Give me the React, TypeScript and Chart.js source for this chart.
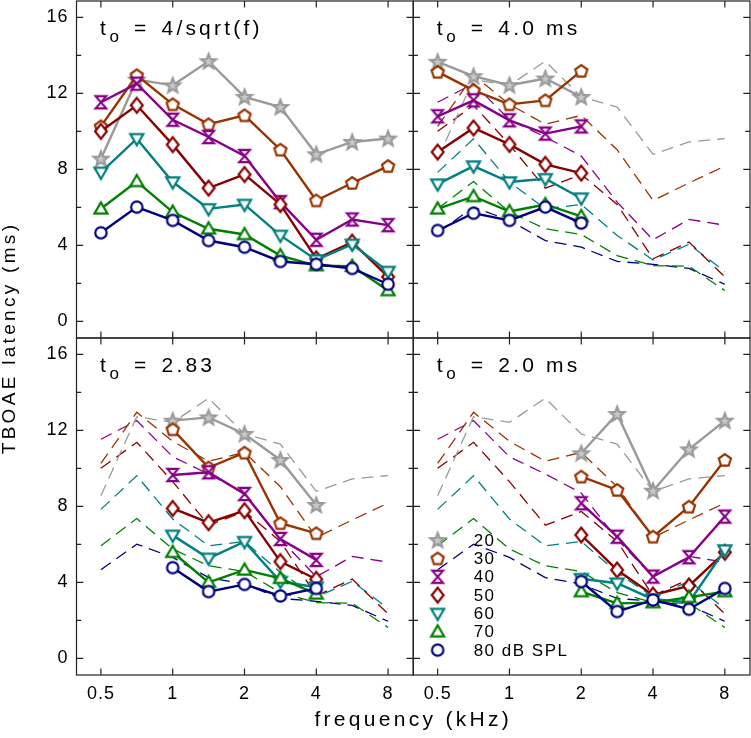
import React, { useEffect, useRef } from 'react';
import { Chart, registerables } from 'chart.js';

Chart.register(...registerables);

// ---------------- data ----------------
const FREQ_KHZ = [0.5, 0.707, 1, 1.414, 2, 2.828, 4, 5.657, 8];
const X_TICKS = [0.5, 1, 2, 4, 8];
const X_TICK_LABELS = ['0.5', '1', '2', '4', '8'];
const Y_TICKS = [0, 4, 8, 12, 16];
const Y_TICK_LABELS = ['0', '4', '8', '12', '16'];
const Y_MINOR_TICKS = [2, 6, 10, 14];
const LEVEL_LABELS = ['20', '30', '40', '50', '60', '70', '80 dB SPL'];
const LEVEL_COLORS = ['#9a9a9a', '#993300', '#880088', '#880000', '#008080', '#008000', '#000080'];
const LEVEL_MARKERS = ['star', 'pentagon', 'hourglass', 'diamond', 'triDown', 'triUp', 'circle'];
const PANEL_LABELS = ['4/sqrt(f)', '4.0 ms', '2.83', '2.0 ms'];

// rows: 20, 30, 40, 50, 60, 70, 80 dB SPL ; columns follow FREQ_KHZ
const LAT_4_SQRT_F = [
  [8.56, 12.72, 12.42, 13.69, 11.81, 11.28, 8.79, 9.44, 9.62],
  [10.26, 12.95, 11.42, 10.37, 10.84, 9.03, 6.36, 7.28, 8.17],
  [11.53, 12.51, 10.61, 9.7, 8.7, 6.27, 4.29, 5.36, 5.06],
  [10.0, 11.37, 9.3, 7.01, 7.73, 6.15, 3.29, 4.17, 2.34],
  [7.84, 9.61, 7.33, 5.92, 6.15, 4.52, 3.23, 4.05, 2.62],
  [5.92, 7.36, 5.75, 4.87, 4.57, 3.46, 2.93, 2.9, 1.62],
  [4.66, 6.01, 5.31, 4.25, 3.9, 3.15, 3.0, 2.78, 1.95],
];
const LAT_4_0_MS = [
  [13.66, 12.9, 12.43, 12.78, 11.81, null, null, null, null],
  [13.13, 12.16, 11.42, 11.63, 13.18, null, null, null, null],
  [10.79, 11.63, 10.58, 9.88, 10.26, null, null, null, null],
  [8.91, 10.18, 9.31, 8.26, 7.8, null, null, null, null],
  [7.22, 8.17, 7.33, 7.5, 6.48, null, null, null, null],
  [5.92, 6.57, 5.78, 6.15, 5.52, null, null, null, null],
  [4.78, 5.69, 5.31, 6.01, 5.17, null, null, null, null],
];
const LAT_2_83_MS = [
  [null, null, 12.51, 12.68, 11.81, 10.44, 8.07, null, null],
  [null, null, 12.05, 10.04, 10.82, 7.11, 6.58, null, null],
  [null, null, 9.65, 9.79, 8.65, 6.28, 5.18, null, null],
  [null, null, 7.89, 7.14, 7.77, 5.09, 4.16, null, null],
  [null, null, 6.47, 5.26, 6.14, 4.04, 3.74, null, null],
  [null, null, 5.58, 4.0, 4.65, 4.21, 3.39, null, null],
  [null, null, 4.77, 3.51, 3.89, 3.28, 3.68, null, null],
];
const LAT_2_0_MS = [
  [null, null, null, null, 10.79, 12.86, 8.82, 11.0, 12.51],
  [null, null, null, null, 9.56, 8.86, 6.4, 7.98, 10.44],
  [null, null, null, null, 8.16, 6.4, 4.3, 5.32, 7.46],
  [null, null, null, null, 6.49, 4.65, 3.33, 3.81, 5.58],
  [null, null, null, null, 4.19, 3.95, 3.11, 2.95, 5.7],
  [null, null, null, null, 3.51, 2.89, 2.93, 3.21, 3.51],
  [null, null, null, null, 4.04, 2.46, 3.07, 2.58, 3.68],
];

const FONT = "'Liberation Sans', Arial, sans-serif";
const X_MIN = 0.395;
const X_MAX = 10.2;
const Y_MIN = -0.88;
const Y_MAX = 16.86;

const PANELS = [
  { x: 'xL', y: 'yT', label: PANEL_LABELS[0], data: LAT_4_SQRT_F, ref: false },
  { x: 'xR', y: 'yT', label: PANEL_LABELS[1], data: LAT_4_0_MS, ref: true },
  { x: 'xL', y: 'yB', label: PANEL_LABELS[2], data: LAT_2_83_MS, ref: true },
  { x: 'xR', y: 'yB', label: PANEL_LABELS[3], data: LAT_2_0_MS, ref: true },
];

function toPoints(vals: (number | null)[]) {
  const pts: { x: number; y: number }[] = [];
  vals.forEach((v, i) => {
    if (v !== null && v !== undefined) pts.push({ x: FREQ_KHZ[i], y: v });
  });
  return pts;
}

function makeMarker(kind: string, color: string): HTMLCanvasElement {
  const S = 22;
  const c = document.createElement('canvas');
  c.width = S;
  c.height = S;
  const g = c.getContext('2d')!;
  g.translate(S / 2, S / 2);
  g.lineWidth = 2.2;
  g.strokeStyle = color;
  g.fillStyle = '#ffffff';
  g.lineJoin = 'miter';
  g.beginPath();
  const poly = (pts: number[][]) => {
    pts.forEach((p, i) => (i === 0 ? g.moveTo(p[0], p[1]) : g.lineTo(p[0], p[1])));
    g.closePath();
  };
  if (kind === 'circle') {
    g.arc(0, 0, 5.7, 0, Math.PI * 2);
  } else if (kind === 'pentagon') {
    const pts: number[][] = [];
    for (let k = 0; k < 5; k++) {
      const a = -Math.PI / 2 + (k * 2 * Math.PI) / 5;
      pts.push([6.4 * Math.cos(a), 6.4 * Math.sin(a) + 0.5]);
    }
    poly(pts);
  } else if (kind === 'star') {
    const pts: number[][] = [];
    for (let k = 0; k < 10; k++) {
      const a = -Math.PI / 2 + (k * Math.PI) / 5;
      const r = k % 2 === 0 ? 7.7 : 3.3;
      pts.push([r * Math.cos(a), r * Math.sin(a) + 0.6]);
    }
    poly(pts);
    g.fillStyle = '#c8c8c8';
  } else if (kind === 'hourglass') {
    poly([[-5.3, -6.1], [5.3, -6.1], [-5.3, 6.1], [5.3, 6.1]]);
  } else if (kind === 'diamond') {
    poly([[0, -7.4], [5.9, 0], [0, 7.4], [-5.9, 0]]);
  } else if (kind === 'triDown') {
    poly([[-6.5, -4.6], [6.5, -4.6], [0, 6.5]]);
  } else if (kind === 'triUp') {
    poly([[0, -6.5], [6.5, 4.6], [-6.5, 4.6]]);
  }
  g.fill();
  g.stroke();
  return c;
}

export default function App() {
  const ref = useRef<HTMLCanvasElement | null>(null);

  useEffect(() => {
    document.body.style.margin = '0';
    const canvas = ref.current;
    if (!canvas) return;
    const markers = LEVEL_MARKERS.map((k, i) => makeMarker(k, LEVEL_COLORS[i]));

    const datasets: any[] = [];
    PANELS.forEach((p) => {
      if (p.ref) {
        LAT_4_SQRT_F.forEach((vals, li) => {
          datasets.push({
            xAxisID: p.x,
            yAxisID: p.y,
            data: toPoints(vals),
            borderColor: LEVEL_COLORS[li],
            borderWidth: 1.3,
            borderDash: [12, 7],
            pointRadius: 0,
            fill: false,
            tension: 0,
            order: 100,
          });
        });
      }
      p.data.forEach((vals, li) => {
        datasets.push({
          xAxisID: p.x,
          yAxisID: p.y,
          data: toPoints(vals as (number | null)[]),
          borderColor: LEVEL_COLORS[li],
          borderWidth: 2.4,
          pointStyle: markers[li],
          pointRadius: 7,
          fill: false,
          tension: 0,
          order: 20 - li,
        });
      });
    });

    const xAxis = () => ({
      type: 'logarithmic',
      position: 'bottom',
      stack: 'cols',
      stackWeight: 1,
      min: X_MIN,
      max: X_MAX,
      afterBuildTicks: (s: any) => {
        s.ticks = X_TICKS.map((v) => ({ value: v }));
      },
      afterFit: (s: any) => {
        s.height = 33;
        s.paddingLeft = 0;
        s.paddingRight = 0;
      },
      ticks: {
        callback: (_v: any, i: number) => X_TICK_LABELS[i],
        font: { family: FONT, size: 18 },
        color: '#000',
        padding: 8,
        maxRotation: 0,
        autoSkip: false,
        z: 1,
      },
      grid: { display: false, drawTicks: false },
      border: { display: false },
    });
    const yAxis = () => ({
      type: 'linear',
      position: 'left',
      stack: 'rows',
      stackWeight: 1,
      min: Y_MIN,
      max: Y_MAX,
      afterBuildTicks: (s: any) => {
        s.ticks = Y_TICKS.map((v) => ({ value: v }));
      },
      afterFit: (s: any) => {
        s.width = 57.5;
        s.paddingTop = 0;
        s.paddingBottom = 0;
      },
      ticks: {
        callback: (_v: any, i: number) => Y_TICK_LABELS[i],
        font: { family: FONT, size: 18 },
        color: '#000',
        padding: 8,
        z: 1,
      },
      grid: { display: false, drawTicks: false },
      border: { display: false },
    });

    const spacingPlugin = {
      id: 'spacing',
      beforeDraw(chart: any) {
        chart.ctx.letterSpacing = '3.3px';
      },
      afterDatasetsDraw(chart: any) {
        chart.ctx.letterSpacing = '1px';
      },
      afterDraw(chart: any) {
        chart.ctx.letterSpacing = '0px';
      },
    };

    const framePlugin = {
      id: 'frames',
      afterDraw(chart: any) {
        const ctx = chart.ctx;
        const sc = chart.scales;
        ctx.save();
        ctx.letterSpacing = '0px';
        ctx.strokeStyle = '#222';
        ctx.lineWidth = 1.2;
        const pairs = [
          ['xL', 'yT'],
          ['xR', 'yT'],
          ['xL', 'yB'],
          ['xR', 'yB'],
        ];
        pairs.forEach(([xk, yk]) => {
          const xs = sc[xk];
          const ys = sc[yk];
          const L = xs.left, R = xs.right, T = ys.top, B = ys.bottom;
          ctx.strokeRect(L, T, R - L, B - T);
          ctx.beginPath();
          X_TICKS.forEach((v) => {
            const px = xs.getPixelForValue(v);
            ctx.moveTo(px, B);
            ctx.lineTo(px, B - 6.5);
            ctx.moveTo(px, T);
            ctx.lineTo(px, T + 6.5);
          });
          const drawY = (v: number, len: number) => {
            const py = ys.getPixelForValue(v);
            ctx.moveTo(L, py);
            ctx.lineTo(L + len, py);
            ctx.moveTo(R, py);
            ctx.lineTo(R - len, py);
          };
          Y_TICKS.forEach((v) => drawY(v, 6.7));
          Y_MINOR_TICKS.forEach((v) => drawY(v, 4.7));
          ctx.stroke();
        });

        // panel labels
        ctx.fillStyle = '#000';
        ctx.textBaseline = 'alphabetic';
        ctx.textAlign = 'left';
        PANELS.forEach((p) => {
          const x0 = sc[p.x].left + 23.5;
          const y0 = sc[p.y].top + 34;
          ctx.letterSpacing = '0px';
          ctx.font = `21px ${FONT}`;
          ctx.fillText('t', x0, y0);
          ctx.font = `17px ${FONT}`;
          ctx.fillText('o', x0 + 9.5, y0 + 7);
          ctx.font = `21px ${FONT}`;
          ctx.fillText('=', x0 + 34, y0);
          ctx.letterSpacing = '3.2px';
          ctx.fillText(p.label, x0 + 61.5, y0);
        });

        // legend
        const lx = sc.xR.getPixelForValue(0.5);
        const ly0 = sc.yB.getPixelForValue(6.22);
        ctx.font = `17px ${FONT}`;
        ctx.textBaseline = 'middle';
        ctx.letterSpacing = '1.5px';
        LEVEL_LABELS.forEach((lab, i) => {
          const y = ly0 + i * 18.33;
          const m = markers[i];
          ctx.drawImage(m, lx - m.width / 2, y - m.height / 2);
          ctx.fillText(lab, lx + 36, y + 1);
        });
        ctx.restore();
      },
    };

    const chart = new Chart(canvas, {
      type: 'line',
      data: { datasets },
      options: {
        animation: false,
        responsive: false,
        devicePixelRatio: 1,
        layout: { autoPadding: false, padding: { left: 0, right: 1, top: 1, bottom: 0 } },
        scales: {
          xL: xAxis(),
          xR: xAxis(),
          yB: yAxis(),
          yT: yAxis(),
        } as any,
        plugins: {
          legend: { display: false },
          tooltip: { enabled: false },
          title: {
            display: true,
            text: 'TBOAE latency (ms)',
            position: 'left',
            fullSize: false,
            color: '#000',
            font: { family: FONT, size: 19, weight: 'normal', lineHeight: 1 },
            padding: 0,
          },
          subtitle: {
            display: true,
            text: 'frequency (kHz)',
            position: 'bottom',
            fullSize: false,
            color: '#000',
            font: { family: FONT, size: 21, weight: 'normal', lineHeight: 1.2 },
            padding: { top: 0, bottom: 4.8 },
          },
        },
      } as any,
      plugins: [spacingPlugin, framePlugin],
    });
    return () => chart.destroy();
  }, []);

  return (
    <div style={{ width: 751, height: 738 }}>
      <canvas ref={ref} width={751} height={738} style={{ display: 'block', width: 751, height: 738 }} />
    </div>
  );
}
